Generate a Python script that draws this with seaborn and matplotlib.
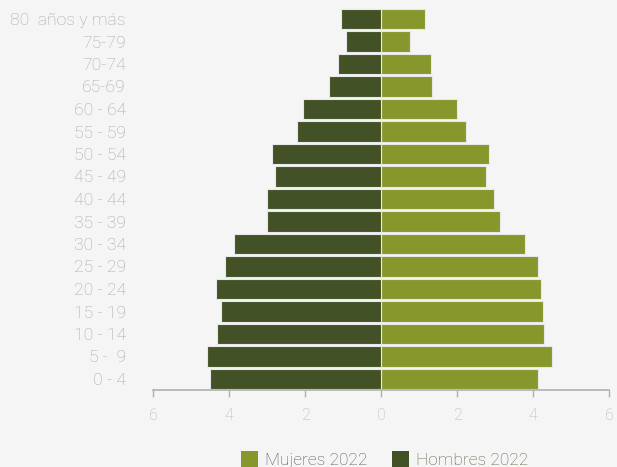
import matplotlib
matplotlib.use("Agg")
import matplotlib.pyplot as plt
from matplotlib.patches import Patch
import seaborn as sns
import pandas as pd

edades = ["80  años y más", "75-79", "70-74", "65-69", "60 - 64", "55 - 59",
          "50 - 54", "45 - 49", "40 - 44", "35 - 39", "30 - 34", "25 - 29",
          "20 - 24", "15 - 19", "10 - 14", "5 -  9", "0 - 4"]
mujeres = [1.16, 0.75, 1.32, 1.33, 1.99, 2.24, 2.83, 2.77, 2.98, 3.14,
           3.79, 4.14, 4.22, 4.26, 4.28, 4.49, 4.14]
hombres = [1.04, 0.91, 1.14, 1.36, 2.04, 2.20, 2.86, 2.78, 3.01, 2.99,
           3.88, 4.10, 4.35, 4.22, 4.31, 4.59, 4.51]
xticks = [-6, -4, -2, 0, 2, 4, 6]

COL_M = "#88972c"
COL_H = "#435226"
BG = "#f5f5f5"

df = pd.concat([
    pd.DataFrame({"edad": edades, "valor": mujeres, "sexo": "Mujeres 2022"}),
    pd.DataFrame({"edad": edades, "valor": [-v for v in hombres], "sexo": "Hombres 2022"}),
])

sns.set_theme(style="white")
plt.rcParams["font.family"] = ["Roboto", "DejaVu Sans"]

fig = plt.figure(figsize=(6.17, 4.67), dpi=100, facecolor=BG)
ax = fig.add_axes([153 / 617, 1 - 390.25 / 467, 456 / 617, 382.5 / 467])
ax.set_facecolor(BG)

sns.barplot(data=df, y="edad", x="valor", hue="sexo", order=edades,
            palette={"Mujeres 2022": COL_M, "Hombres 2022": COL_H},
            saturation=1, dodge=False, orient="h", width=0.9,
            edgecolor="#e8e8e8", linewidth=0.8, legend=False, ax=ax)

ax.set_xlim(-6, 6)
ax.set_ylim(len(edades) - 0.5, -0.5)
ax.set_xticks(xticks)
ax.set_xticklabels([str(abs(t)) for t in xticks])
ax.set_xlabel("")
ax.set_ylabel("")

for s in ["top", "right", "left"]:
    ax.spines[s].set_visible(False)
ax.spines["bottom"].set_color("#b0b0b0")
ax.spines["bottom"].set_linewidth(1.2)
ax.tick_params(axis="x", bottom=True, direction="out", length=5, width=1,
               color="#b0b0b0", pad=8, labelsize=11.5, labelcolor="#b8b8b8")
ax.tick_params(axis="y", left=False, length=0, pad=19.5, labelsize=12.6,
               labelcolor="#a8a8a8")
for lab in ax.get_xticklabels() + ax.get_yticklabels():
    lab.set_fontweight("light")

handles = [Patch(facecolor=COL_M, edgecolor="none"),
           Patch(facecolor=COL_H, edgecolor="none")]
leg = fig.legend(handles, ["Mujeres 2022", "Hombres 2022"], loc="lower center",
                 bbox_to_anchor=(0.623, -0.035), ncol=2, frameon=False,
                 handlelength=1.0, handleheight=1.0, handletextpad=0.4,
                 columnspacing=1.4, fontsize=12.5)
leg.get_texts()[0].set_color("#555555")
leg.get_texts()[1].set_color("#5a6440")
for t in leg.get_texts():
    t.set_fontweight("light")

fig.savefig("out.png", dpi=100, facecolor=BG)
